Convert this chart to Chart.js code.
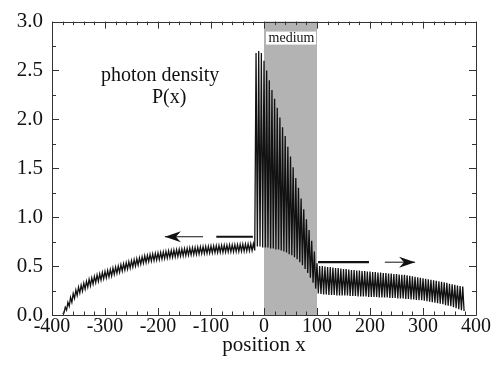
<!DOCTYPE html>
<html>
<head>
<meta charset="utf-8">
<script src="https://cdn.jsdelivr.net/npm/chart.js@4.4.1/dist/chart.umd.min.js"></script>
<style>
  html, body { margin: 0; padding: 0; background: #fff; }
</style>
</head>
<body>
<canvas id="density-chart" width="502" height="377"></canvas>
<script>
// photon density P(x): the curve is a fast zigzag, stored as its peaks and troughs
// peaks sit at x = -380, -375, ... 375, each trough half a period after its peak
const firstPeakX = -380;
const period = 5;

const peaks = [
    // left of the medium
    0.01, 0.08, 0.13, 0.18, 0.22, 0.255, 0.285, 0.305, 0.325, 0.345,
    0.365, 0.38, 0.395, 0.41, 0.42, 0.435, 0.445, 0.455, 0.465, 0.48,
    0.49, 0.50, 0.515, 0.525, 0.535, 0.545, 0.555, 0.565, 0.575, 0.585,
    0.595, 0.605, 0.61, 0.62, 0.625, 0.63, 0.635, 0.64, 0.645, 0.65,
    0.655, 0.66, 0.664, 0.668, 0.672, 0.675, 0.678, 0.681, 0.685, 0.688,
    0.69, 0.693, 0.696, 0.698, 0.70, 0.702, 0.705, 0.706, 0.708, 0.71,
    0.711, 0.713, 0.714, 0.716, 0.717, 0.719, 0.72, 0.722, 0.724, 0.725,
    0.727, 0.728, 0.73,
    // inside the medium
    2.68, 2.70, 2.68, 2.60, 2.50, 2.40, 2.30, 2.21, 2.12, 2.02,
    1.92, 1.83, 1.72, 1.62, 1.51, 1.40, 1.30, 1.19, 1.08, 0.98,
    0.87, 0.76, 0.65, 0.53,
    // right of the medium
    0.50, 0.50, 0.495, 0.49, 0.49, 0.485, 0.48, 0.48, 0.475, 0.47,
    0.47, 0.465, 0.46, 0.46, 0.455, 0.455, 0.45, 0.45, 0.445, 0.445,
    0.44, 0.44, 0.435, 0.435, 0.43, 0.43, 0.425, 0.425, 0.42, 0.42,
    0.415, 0.41, 0.41, 0.405, 0.40, 0.395, 0.39, 0.385, 0.38, 0.375,
    0.37, 0.365, 0.36, 0.355, 0.35, 0.345, 0.34, 0.335, 0.33, 0.32,
    0.315, 0.31, 0.30, 0.295, 0.29
];

const troughs = [
    0.02, 0.05, 0.09, 0.13, 0.17, 0.20, 0.225, 0.245, 0.265, 0.285,
    0.30, 0.317, 0.332, 0.345, 0.357, 0.37, 0.38, 0.39, 0.40, 0.415,
    0.425, 0.437, 0.45, 0.46, 0.47, 0.48, 0.49, 0.50, 0.51, 0.52,
    0.53, 0.537, 0.545, 0.552, 0.557, 0.562, 0.567, 0.572, 0.577, 0.582,
    0.587, 0.591, 0.595, 0.599, 0.603, 0.606, 0.609, 0.612, 0.615, 0.618,
    0.621, 0.624, 0.627, 0.629, 0.631, 0.633, 0.635, 0.637, 0.639, 0.64,
    0.642, 0.643, 0.645, 0.646, 0.647, 0.649, 0.65, 0.652, 0.653, 0.655,
    0.656, 0.658, 0.66,
    0.70, 0.70, 0.69, 0.69, 0.69, 0.68, 0.68, 0.67, 0.67, 0.66,
    0.65, 0.64, 0.62, 0.61, 0.59, 0.57, 0.54, 0.51, 0.47, 0.43,
    0.38, 0.33, 0.27, 0.22,
    0.215, 0.21, 0.21, 0.205, 0.205, 0.205, 0.20, 0.20, 0.20, 0.20,
    0.20, 0.195, 0.195, 0.195, 0.19, 0.19, 0.19, 0.19, 0.185, 0.185,
    0.185, 0.185, 0.18, 0.18, 0.18, 0.18, 0.175, 0.175, 0.175, 0.17,
    0.17, 0.17, 0.165, 0.165, 0.16, 0.16, 0.155, 0.15, 0.15, 0.145,
    0.14, 0.135, 0.13, 0.125, 0.12, 0.115, 0.11, 0.10, 0.095, 0.09,
    0.08, 0.07, 0.06, 0.05, 0.04
];

const mediumRange = [0, 100];

// flux arrows: level bar, then thin shaft running to the tip
const arrowLevels = [0.8, 0.54];
const levelBars = [[-90, -21], [102, 198]];
const arrowShafts = [[-115, -187], [228, 285]];

const xTicks = [-400, -300, -200, -100, 0, 100, 200, 300, 400];
const yTicks = [0, 0.5, 1, 1.5, 2, 2.5, 3];

const serif = '"Liberation Serif", "Times New Roman", serif';

const curve = [];
peaks.forEach((p, i) => {
    const x = firstPeakX + i * period;
    curve.push({x: x, y: p});
    curve.push({x: x + period / 2, y: troughs[i]});
});

const extraSets = [];
levelBars.forEach((bar, i) => {
    extraSets.push({
        data: bar.map(x => ({x: x, y: arrowLevels[i]})),
        borderColor: '#111', borderWidth: 2.2, pointRadius: 0
    });
    extraSets.push({
        data: arrowShafts[i].map(x => ({x: x, y: arrowLevels[i]})),
        borderColor: '#111', borderWidth: 1, pointRadius: 0
    });
});

const decor = {
    id: 'decor',
    beforeDatasetsDraw(chart) {
        const {ctx, chartArea: a, scales: {x, y}} = chart;
        const x0 = x.getPixelForValue(mediumRange[0]);
        const x1 = x.getPixelForValue(mediumRange[1]);
        ctx.save();
        ctx.fillStyle = '#b3b3b3';
        ctx.fillRect(x0, a.top, x1 - x0, a.bottom - a.top);
        ctx.restore();
    },
    afterDatasetsDraw(chart) {
        const {ctx, chartArea: a, scales: {x, y}} = chart;
        ctx.save();

        // arrow heads
        ctx.fillStyle = '#111';
        arrowShafts.forEach((s, i) => {
            const tip = x.getPixelForValue(s[1]);
            const py = y.getPixelForValue(arrowLevels[i]);
            const dir = s[1] > s[0] ? 1 : -1;
            ctx.beginPath();
            ctx.moveTo(tip, py);
            ctx.lineTo(tip - dir * 16, py - 5.5);
            ctx.lineTo(tip - dir * 11, py);
            ctx.lineTo(tip - dir * 16, py + 5.5);
            ctx.closePath();
            ctx.fill();
        });

        // "medium" tag
        const mx0 = x.getPixelForValue(mediumRange[0]);
        const mx1 = x.getPixelForValue(mediumRange[1]);
        ctx.fillStyle = '#fff';
        ctx.fillRect(mx0 + 2, a.top + 10, mx1 - mx0 - 3, 13);
        ctx.fillStyle = '#111';
        ctx.font = '14px ' + serif;
        ctx.textAlign = 'center';
        ctx.textBaseline = 'alphabetic';
        ctx.fillText('medium', (mx0 + mx1) / 2 + 1, a.top + 20.5);

        // label
        ctx.font = '20px ' + serif;
        ctx.fillText('photon density', x.getPixelForValue(-196), y.getPixelForValue(2.39));
        ctx.fillText('P(x)', x.getPixelForValue(-179), y.getPixelForValue(2.17));

        // frame with inward ticks on all four sides
        ctx.strokeStyle = '#333';
        ctx.lineWidth = 1;
        ctx.beginPath();
        ctx.rect(Math.round(a.left) + 0.5, Math.round(a.top) + 0.5,
                 Math.round(a.right - a.left), Math.round(a.bottom - a.top));
        for (let v = -400; v <= 400; v += 20) {
            const px = Math.round(x.getPixelForValue(v)) + 0.5;
            const len = v % 100 === 0 ? 7 : 3.5;
            ctx.moveTo(px, a.bottom); ctx.lineTo(px, a.bottom - len);
            ctx.moveTo(px, a.top); ctx.lineTo(px, a.top + len);
        }
        for (let v = 0; v <= 3; v += 0.25) {
            const py = Math.round(y.getPixelForValue(v)) + 0.5;
            const len = Math.abs(v * 2 - Math.round(v * 2)) < 1e-6 ? 7 : 4;
            ctx.moveTo(a.left, py); ctx.lineTo(a.left + len, py);
            ctx.moveTo(a.right, py); ctx.lineTo(a.right - len, py);
        }
        ctx.stroke();
        ctx.restore();
    }
};

const density_chart_ctx = document.getElementById('density-chart').getContext('2d');
const density_chart = new Chart(density_chart_ctx, {
    type: 'line',
    data: {
        datasets: [{
            data: curve,
            borderColor: '#111',
            borderWidth: 1.3,
            pointRadius: 0,
            tension: 0
        }].concat(extraSets)
    },
    options: {
        responsive: false,
        animation: false,
        layout: {padding: {left: 0, right: 26, top: 15, bottom: 0}},
        plugins: {legend: {display: false}, tooltip: {enabled: false}},
        scales: {
            x: {
                type: 'linear',
                min: -400,
                max: 400,
                afterBuildTicks: s => { s.ticks = xTicks.map(v => ({value: v})); },
                afterFit: s => { s.height = 62; },
                grid: {display: false, drawTicks: false},
                border: {display: false},
                ticks: {
                    padding: 0,
                    color: '#111',
                    font: {family: serif, size: 20},
                    callback: v => String(v)
                },
                title: {
                    display: true,
                    text: 'position x',
                    color: '#111',
                    font: {family: serif, size: 21},
                    padding: {top: 0, bottom: 19}
                }
            },
            y: {
                min: 0,
                max: 3,
                afterBuildTicks: s => { s.ticks = yTicks.map(v => ({value: v})); },
                afterFit: s => { s.width = 52; },
                grid: {display: false, drawTicks: false},
                border: {display: false},
                ticks: {
                    padding: 9,
                    color: '#111',
                    font: {family: serif, size: 21},
                    callback: v => v.toFixed(1)
                }
            }
        }
    },
    plugins: [decor]
});
</script>
</body>
</html>
